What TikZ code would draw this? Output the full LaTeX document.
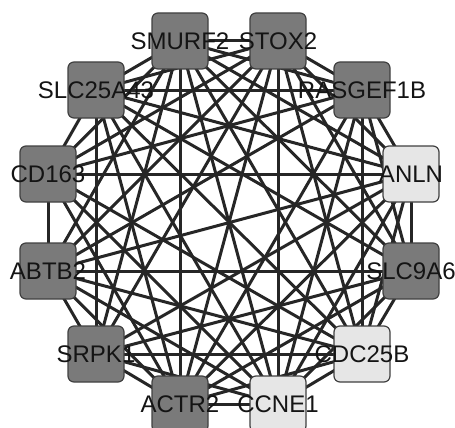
\documentclass[tikz,border=0pt]{standalone}
\usepackage{fontspec}
\setmainfont{Liberation Sans}
\pgfdeclarelayer{background}
\pgfsetlayers{background,main}
\definecolor{darkfill}{RGB}{122,122,122}
\definecolor{lightfill}{RGB}{230,230,230}
\definecolor{nodeborder}{RGB}{64,64,64}
\definecolor{edgecol}{RGB}{38,38,38}
\definecolor{labcol}{RGB}{20,20,20}
\begin{document}
\begin{tikzpicture}[x=1pt,y=-1pt,
  gene/.style={draw=nodeborder, line width=1.2pt, rounded corners=6pt, minimum width=56pt, minimum height=56pt, inner sep=0pt},
  darkbox/.style={gene, fill=darkfill},
  lightbox/.style={gene, fill=lightfill},
  lab/.style={font=\fontsize{24}{24}\selectfont, text=labcol, inner sep=0pt},
  edge/.style={draw=edgecol, line width=3pt}]
\useasboundingbox (0,0) rectangle (455,428);
\node[darkbox]  (n0)  at (180,41)  {};
\node[darkbox]  (n1)  at (278,41)  {};
\node[darkbox]  (n2)  at (362,90)  {};
\node[lightbox] (n3)  at (411,174) {};
\node[darkbox]  (n4)  at (411,271) {};
\node[lightbox] (n5)  at (362,354) {};
\node[lightbox] (n6)  at (278,404) {};
\node[darkbox]  (n7)  at (180,404) {};
\node[darkbox]  (n8)  at (96,354)  {};
\node[darkbox]  (n9)  at (48,271)  {};
\node[darkbox]  (n10) at (48,174)  {};
\node[darkbox]  (n11) at (96,90)   {};
\node[lab] (t0)  at (n0)  {SMURF2};
\node[lab] (t1)  at (n1)  {STOX2};
\node[lab] (t2)  at (n2)  {RASGEF1B};
\node[lab] (t3)  at (n3)  {ANLN};
\node[lab] (t4)  at (n4)  {SLC9A6};
\node[lab] (t5)  at (n5)  {CDC25B};
\node[lab] (t6)  at (n6)  {CCNE1};
\node[lab] (t7)  at (n7)  {ACTR2};
\node[lab] (t8)  at (n8)  {SRPK1};
\node[lab] (t9)  at (n9)  {ABTB2};
\node[lab] (t10) at (n10) {CD163};
\node[lab] (t11) at (n11) {SLC25A43};
\begin{pgfonlayer}{background}
\foreach \a/\b in {0/1,0/2,0/3,0/4,0/5,0/6,0/7,0/8,0/9,0/10,0/11,
  1/2,1/3,1/4,1/5,1/6,1/7,1/8,1/9,1/10,1/11,
  2/3,2/4,2/5,2/6,2/7,2/9,2/10,2/11,
  3/4,3/5,3/6,3/7,3/8,3/9,3/10,3/11,
  4/5,4/6,4/7,4/8,4/9,4/11,
  5/6,5/7,5/8,5/9,5/10,5/11,
  6/7,6/8,6/9,6/10,6/11,
  7/8,7/9,7/10,7/11,
  8/9,8/11,
  9/10,
  10/11}
  \draw[edge] (n\a.center) -- (n\b.center);
\end{pgfonlayer}
\end{tikzpicture}
\end{document}
